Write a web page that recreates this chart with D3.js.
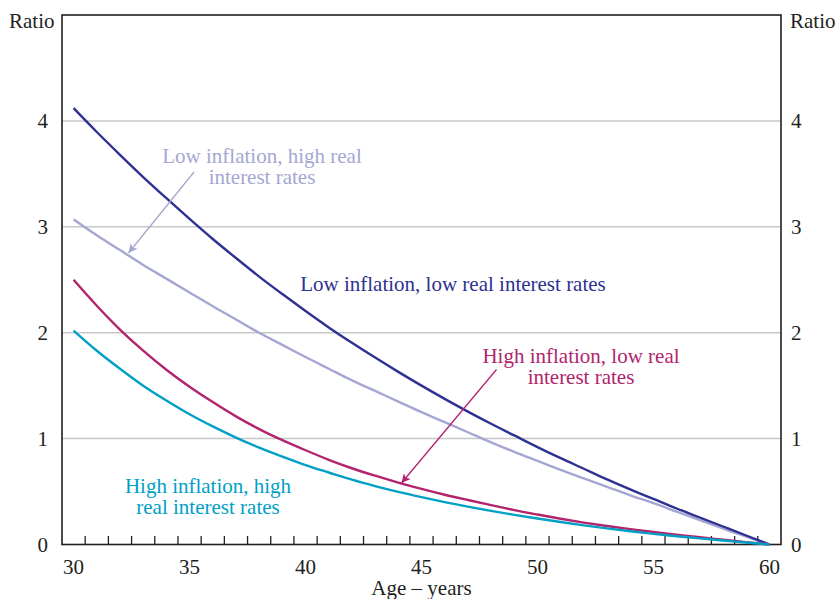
<!DOCTYPE html>
<html>
<head>
<meta charset="utf-8">
<script src="https://cdn.jsdelivr.net/npm/d3@7"></script>
<style>
  html, body { margin: 0; padding: 0; background: #fff; }
  svg { display: block; }
  text { font-family: "Liberation Serif", "DejaVu Serif", serif; }
</style>
</head>
<body>
<svg id="chart" width="837" height="599"></svg>
<script>
// ---- Data ----
const ages = d3.range(30, 61);
const lowInfLowReal = [4.12, 3.895, 3.68, 3.47, 3.27, 3.075, 2.885, 2.705, 2.53, 2.365, 2.205,
  2.05, 1.905, 1.765, 1.63, 1.50, 1.375, 1.255, 1.14, 1.03, 0.92,
  0.815, 0.715, 0.615, 0.52, 0.43, 0.34, 0.255, 0.17, 0.085, 0.00];
const lowInfHighReal = [3.07, 2.92, 2.78, 2.64, 2.51, 2.38, 2.25, 2.125, 2.00, 1.885, 1.77,
  1.66, 1.55, 1.45, 1.35, 1.25, 1.155, 1.06, 0.965, 0.875, 0.79,
  0.705, 0.625, 0.545, 0.465, 0.39, 0.31, 0.23, 0.15, 0.075, 0.00];
const highInfLowReal = [2.50, 2.255, 2.03, 1.83, 1.65, 1.49, 1.345, 1.21, 1.09, 0.985, 0.89,
  0.80, 0.72, 0.65, 0.585, 0.525, 0.47, 0.42, 0.372, 0.325, 0.283,
  0.243, 0.207, 0.175, 0.145, 0.118, 0.093, 0.068, 0.045, 0.022, 0.00];
const highInfHighReal = [2.02, 1.83, 1.66, 1.50, 1.36, 1.23, 1.115, 1.01, 0.915, 0.83, 0.75,
  0.68, 0.612, 0.552, 0.497, 0.447, 0.40, 0.357, 0.317, 0.28, 0.245,
  0.212, 0.181, 0.152, 0.125, 0.10, 0.078, 0.058, 0.038, 0.019, 0.00];
const xTickLabels = [30, 35, 40, 45, 50, 55, 60];
const yTickLabels = [0, 1, 2, 3, 4];

const series = [
  { name: "Low inflation, high real interest rates", values: lowInfHighReal, color: "#a4a7d2" },
  { name: "Low inflation, low real interest rates", values: lowInfLowReal, color: "#2e3192" },
  { name: "High inflation, low real interest rates", values: highInfLowReal, color: "#b2246d" },
  { name: "High inflation, high real interest rates", values: highInfHighReal, color: "#00a0c6" }
];

// ---- Layout ----
const svg = d3.select("#chart");
const pLeft = 62, pRight = 781, pTop = 15, pBottom = 544.5;
const x = d3.scaleLinear().domain([29.5, 60.5]).range([pLeft, pRight]);
const y = d3.scaleLinear().domain([0, 5]).range([pBottom, pTop]);
const frameColor = "#231f20";
const fontSize = 21;

// gridlines
svg.append("g").selectAll("line").data(yTickLabels.filter(d => d > 0)).join("line")
  .attr("x1", pLeft).attr("x2", pRight)
  .attr("y1", d => y(d)).attr("y2", d => y(d))
  .attr("stroke", "#c8c8c8").attr("stroke-width", 1.5);

// minor ticks at half-year boundaries
const tickPos = d3.range(30.5, 60, 1);
svg.append("g").selectAll("line").data(tickPos).join("line")
  .attr("x1", d => x(d)).attr("x2", d => x(d))
  .attr("y1", pBottom).attr("y2", pBottom - 8.5)
  .attr("stroke", frameColor).attr("stroke-width", 1.3);

// frame
svg.append("rect")
  .attr("x", pLeft).attr("y", pTop)
  .attr("width", pRight - pLeft).attr("height", pBottom - pTop)
  .attr("fill", "none").attr("stroke", frameColor).attr("stroke-width", 1.6);

// lines
const line = d3.line()
  .x((d, i) => x(ages[i]))
  .y(d => y(d))
  .curve(d3.curveMonotoneX);
svg.append("g").selectAll("path").data(series).join("path")
  .attr("d", d => line(d.values))
  .attr("fill", "none")
  .attr("stroke", d => d.color)
  .attr("stroke-width", 2.4)
  .attr("stroke-linejoin", "round");

// y labels
const yl = svg.append("g").attr("font-size", fontSize).attr("fill", "#231f20");
yl.selectAll("text.l").data(yTickLabels).join("text").attr("class", "l")
  .attr("x", 48).attr("y", d => y(d) + 7).attr("text-anchor", "end").text(d => d);
yl.selectAll("text.r").data(yTickLabels).join("text").attr("class", "r")
  .attr("x", 791).attr("y", d => y(d) + 7).attr("text-anchor", "start").text(d => d);
yl.append("text").attr("x", 9).attr("y", 28).text("Ratio");
yl.append("text").attr("x", 790).attr("y", 28).text("Ratio");

// x labels
const xl = svg.append("g").attr("font-size", fontSize).attr("fill", "#231f20");
xl.selectAll("text").data(xTickLabels).join("text")
  .attr("x", d => x(d)).attr("y", 574).attr("text-anchor", "middle").text(d => d);
xl.append("text").attr("x", (pLeft + pRight) / 2).attr("y", 595)
  .attr("text-anchor", "middle").text("Age \u2013 years");

// arrow markers
const defs = svg.append("defs");
function marker(id, color) {
  defs.append("marker").attr("id", id)
    .attr("viewBox", "0 0 10 10").attr("refX", 10).attr("refY", 5)
    .attr("markerWidth", 11).attr("markerHeight", 9)
    .attr("markerUnits", "userSpaceOnUse")
    .attr("orient", "auto")
    .append("path").attr("d", "M0,0 L10,5 L0,10 L2.5,5 Z").attr("fill", color);
}
marker("arrLP", series[0].color);
marker("arrMG", series[2].color);

// annotations (multi-line labels as one text with tspans)
const ann = svg.append("g").attr("font-size", fontSize);
function label(lines, cx, baseY, color) {
  const t = ann.append("text").attr("x", cx).attr("y", baseY)
    .attr("text-anchor", "middle").attr("fill", color);
  lines.forEach((s, i) => {
    t.append("tspan").attr("x", cx).attr("dy", i === 0 ? 0 : 20.5).text(s);
  });
}
label(["Low inflation, high real", "interest rates"], 262, 163, series[0].color);
label(["Low inflation, low real interest rates"], 453, 291, series[1].color);
label(["High inflation, low real", "interest rates"], 581, 363, series[2].color);
label(["High inflation, high", "real interest rates"], 208, 493, series[3].color);

svg.append("line")
  .attr("x1", 194).attr("y1", 172).attr("x2", 128.5).attr("y2", 253)
  .attr("stroke", series[0].color).attr("stroke-width", 1.3)
  .attr("marker-end", "url(#arrLP)");
svg.append("line")
  .attr("x1", 496.5).attr("y1", 369.5).attr("x2", 401.5).attr("y2", 483)
  .attr("stroke", series[2].color).attr("stroke-width", 1.3)
  .attr("marker-end", "url(#arrMG)");
</script>
</body>
</html>
